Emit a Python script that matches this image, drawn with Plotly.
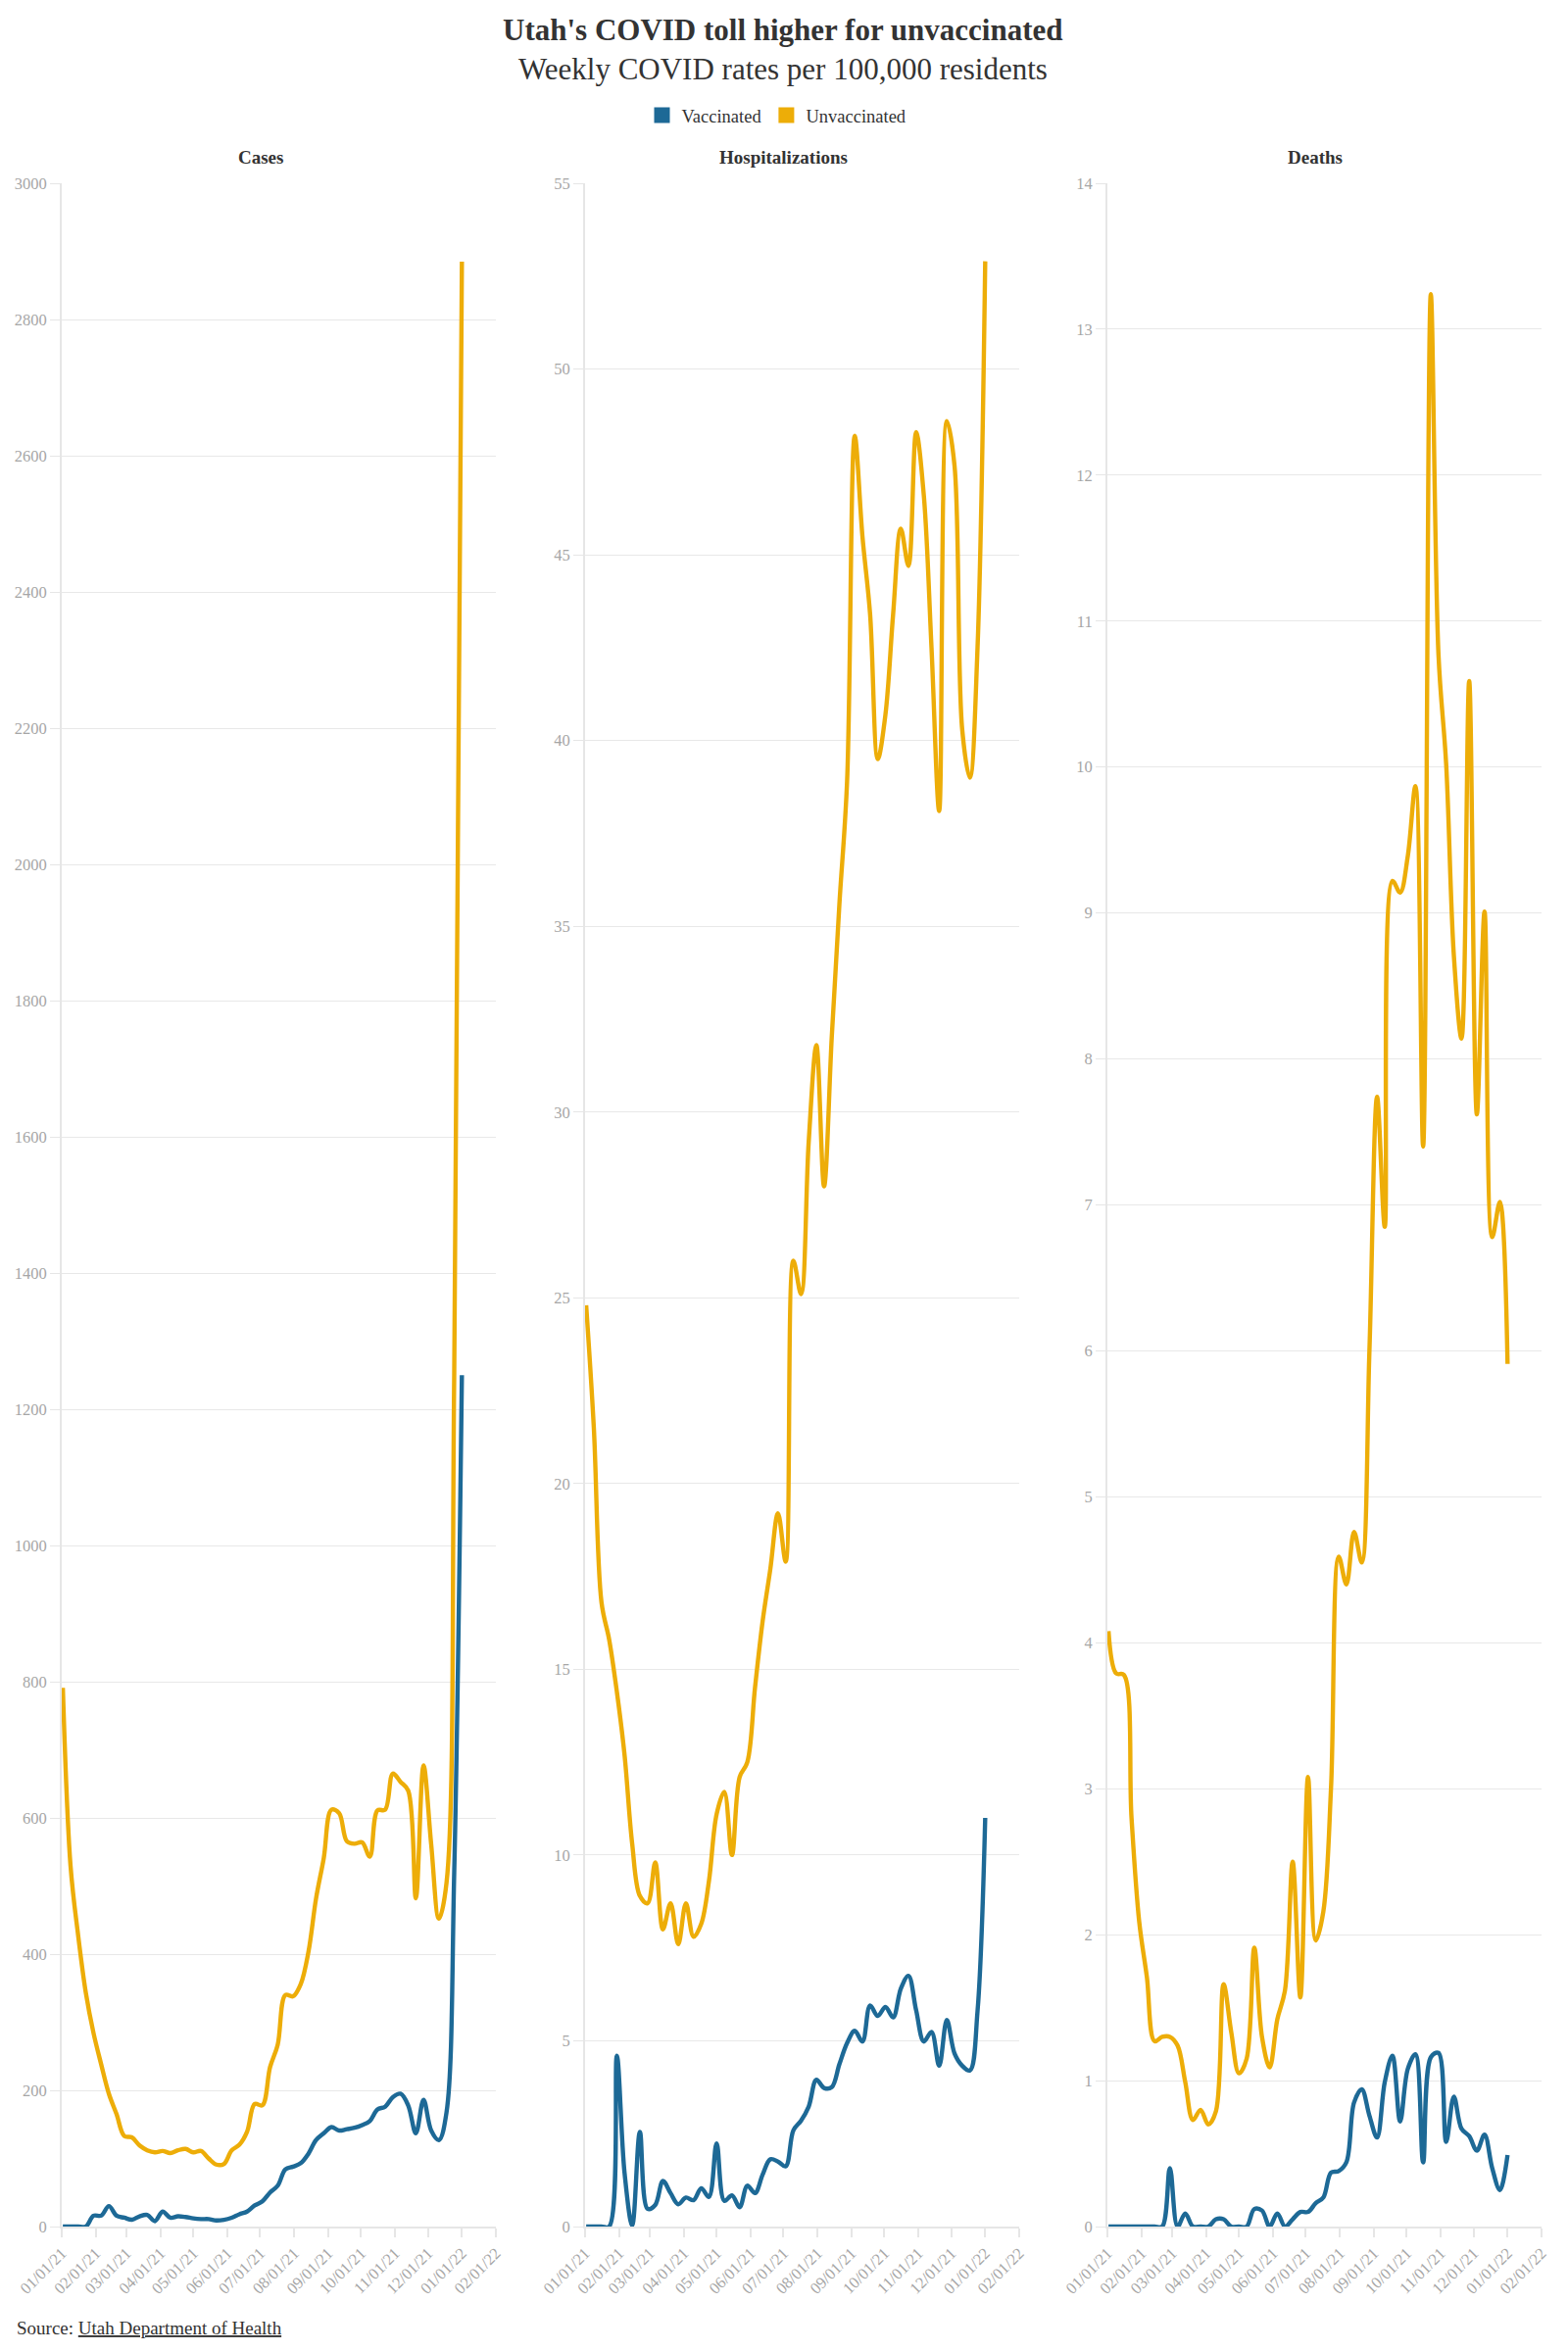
import pandas as pd
import plotly.graph_objects as go

# ---- data (weekly, week ending Saturday) ----
dates = pd.date_range("2021-01-02", periods=53, freq="7D")

cases_vacc = [0, 0, 0, 0, 16, 16, 30, 16, 13, 10, 15, 17, 8, 22, 13, 15, 14, 12, 11, 11,
              9, 10, 13, 18, 22, 31, 37, 50, 60, 84, 88, 93, 107, 127, 137, 146, 141, 143,
              145, 149, 155, 172, 176, 190, 195, 178, 137, 186, 141, 127, 168, 520, 1250]
cases_unvacc = [791, 530, 427, 343, 284, 238, 195, 165, 133, 131, 119, 112, 109, 111, 108,
                112, 114, 109, 111, 100, 91, 92, 112, 120, 139, 180, 178, 234, 267, 340, 338,
                356, 403, 482, 541, 612, 607, 566, 562, 564, 543, 611, 612, 665, 653, 640,
                482, 677, 561, 452, 505, 1250, 2885]

hosp_vacc = [0, 0, 0, 0, 4.6, 1.45, 0.03, 2.55, 0.48, 0.58, 1.23, 0.9, 0.6, 0.78, 0.71, 1.03,
             0.8, 2.24, 0.69, 0.84, 0.52, 1.1, 0.9, 1.4, 1.81, 1.75, 1.62, 2.59, 2.85, 3.23,
             3.95, 3.73, 3.75, 4.37, 4.94, 5.27, 4.98, 5.95, 5.67, 5.91, 5.63, 6.4, 6.75,
             5.82, 4.98, 5.24, 4.33, 5.56, 4.66, 4.33, 4.2, 5.8, 11.0]
hosp_unvacc = [24.8, 21.5, 16.8, 15.8, 14.4, 12.7, 10.3, 8.9, 8.7, 9.8, 8.0, 8.7, 7.6, 8.7,
               7.8, 8.15, 9.3, 11.1, 11.7, 10.0, 12.1, 12.5, 14.5, 16.3, 17.7, 19.2, 17.9,
               26.0, 25.1, 29.2, 31.8, 28.0, 32.0, 35.6, 38.9, 48.2, 45.5, 43.4, 39.5, 40.7,
               43.4, 45.7, 44.7, 48.3, 46.6, 42.5, 38.1, 48.6, 47.4, 40.3, 39.0, 42.5, 52.9]

deaths_vacc = [0, 0, 0, 0, 0, 0, 0, 0, 0.40, 0, 0.09, 0, 0, 0, 0.05, 0.05, 0, 0, 0, 0.12,
               0.11, 0, 0.09, 0, 0.05, 0.10, 0.10, 0.16, 0.20, 0.37, 0.38, 0.44, 0.85, 0.94,
               0.76, 0.61, 0.99, 1.17, 0.72, 1.08, 1.18, 0.44, 1.16, 1.19, 0.58, 0.89, 0.67,
               0.62, 0.52, 0.63, 0.40, 0.25, 0.49]
deaths_unvacc = [4.08, 3.79, 3.78, 2.8, 2.09, 1.71, 1.27, 1.3, 1.3, 1.24, 0.99, 0.73, 0.80,
                 0.70, 0.79, 1.66, 1.33, 1.05, 1.15, 1.91, 1.3, 1.09, 1.42, 1.62, 2.50, 1.57,
                 3.08, 1.96, 2.16, 3.01, 4.59, 4.40, 4.76, 4.55, 6.0, 7.74, 6.85, 9.22, 9.14,
                 9.39, 9.87, 7.40, 13.24, 10.77, 10.02, 8.71, 8.14, 10.59, 7.62, 9.01, 6.78,
                 7.02, 5.91]

panel_titles = ["Cases", "Hospitalizations", "Deaths"]
y_ranges = [(0, 3000, 200), (0, 55, 5), (0, 14, 1)]
x_tickvals = pd.date_range("2021-01-01", "2022-02-01", freq="MS")
x_ticktext = [d.strftime("%m/%d/%y") for d in x_tickvals]

BLUE = "#1D6996"
GOLD = "#EDAD08"
FONT = "Liberation Serif, Times New Roman, serif"
TICK_GRAY = "#a6a6a6"
OFF = 8                      # page body margin
W, H = 1600 - OFF, 2400 - OFF


def px_x(x):
    return (x - OFF) / W


def px_y(y):
    return 1 - (y - OFF) / H


fig = go.Figure()

series = [(cases_vacc, cases_unvacc), (hosp_vacc, hosp_unvacc), (deaths_vacc, deaths_unvacc)]
for k, (vac, unv) in enumerate(series):
    ax = "" if k == 0 else str(k + 1)
    for vals, col, name in [(unv, GOLD, "Unvaccinated"), (vac, BLUE, "Vaccinated")]:
        fig.add_trace(go.Scatter(
            x=dates, y=vals, mode="lines", name=name,
            line=dict(color=col, width=4.4, shape="spline", smoothing=1.0),
            showlegend=False, xaxis="x" + ax, yaxis="y" + ax,
        ))

# legend entries (square swatches)
for name, col in [("Vaccinated", BLUE), ("Unvaccinated", GOLD)]:
    fig.add_trace(go.Scatter(
        x=[None], y=[None], mode="markers", name=name,
        marker=dict(symbol="square", size=17, color=col),
        showlegend=True,
    ))

x_domains = [(63, 506), (597, 1040), (1130, 1573)]
y_dom = [px_y(2272), px_y(187)]

layout = dict(
    width=W, height=H,
    paper_bgcolor="white", plot_bgcolor="white",
    margin=dict(l=0, r=0, t=0, b=0, autoexpand=False),
    font=dict(family=FONT, color="#333333"),
    showlegend=True,
    legend=dict(orientation="h", x=px_x(793), xanchor="center", y=px_y(118), yanchor="middle",
                font=dict(size=18.5, family=FONT, color="#333333"), itemwidth=30,
                tracegroupgap=0, bgcolor="rgba(0,0,0,0)"),
)

for k in range(3):
    ax = "" if k == 0 else str(k + 1)
    x0, x1 = x_domains[k]
    y0, y1, dy = y_ranges[k]
    layout["xaxis" + ax] = dict(
        domain=[px_x(x0), px_x(x1)], anchor="y" + ax, type="date",
        range=["2021-01-01", "2022-02-01"],
        tickvals=list(x_tickvals), ticktext=x_ticktext, tickangle=-45,
        tickfont=dict(size=16.5, color=TICK_GRAY, family=FONT),
        ticks="outside", ticklen=9, tickcolor="#e6e6e6", tickwidth=2,
        showgrid=False, zeroline=False, showline=True, linecolor="#e6e6e6", linewidth=2,
        automargin=False,
    )
    layout["yaxis" + ax] = dict(
        domain=y_dom, anchor="x" + ax, range=[y0, y1],
        tickvals=list(range(y0, y1 + 1, dy)),
        tickfont=dict(size=16.5, color=TICK_GRAY, family=FONT),
        ticks="outside", ticklen=10, tickcolor="#e6e6e6", tickwidth=1,
        showgrid=True, gridcolor="#e8e8e8", gridwidth=1,
        zeroline=False, showline=True, linecolor="#e6e6e6", linewidth=2,
        automargin=False,
    )

fig.update_layout(**layout)

annotations = [
    dict(text="<b>Utah's COVID toll higher for unvaccinated</b>", x=px_x(799), y=px_y(31),
         font=dict(size=31, color="#333333", family=FONT)),
    dict(text="Weekly COVID rates per 100,000 residents", x=px_x(799), y=px_y(70),
         font=dict(size=31, color="#333333", family=FONT)),
]
for name, cx in zip(panel_titles, [266, 799, 1342]):
    annotations.append(dict(text="<b>" + name + "</b>", x=px_x(cx), y=px_y(161),
                            font=dict(size=19, color="#333333", family=FONT)))
for a in annotations:
    a.update(xref="paper", yref="paper", xanchor="center", yanchor="middle", showarrow=False)
annotations.append(dict(text="Source: <u>Utah Department of Health</u>", x=px_x(15), y=px_y(2375),
                        xref="paper", yref="paper", xanchor="left", yanchor="middle",
                        showarrow=False, font=dict(size=19, color="#333333", family=FONT)))
fig.update_layout(annotations=annotations)

fig.write_html("out.html")
